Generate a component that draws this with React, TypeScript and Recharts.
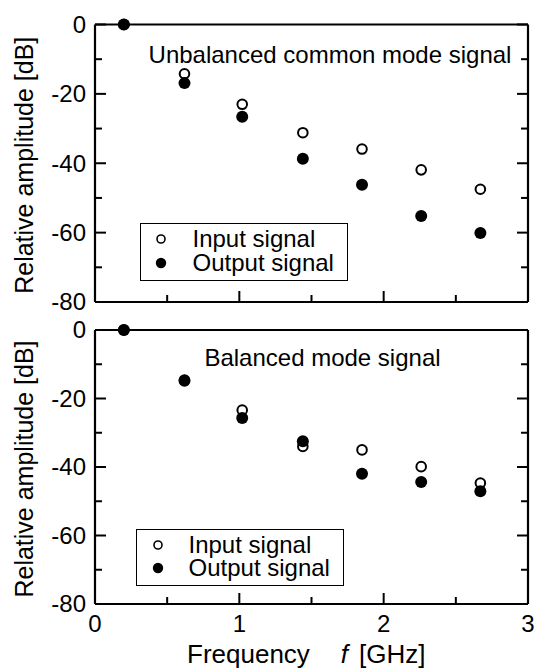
import React from 'react'
import { ScatterChart, Scatter, XAxis, YAxis, Legend, Label } from 'recharts'

const FONT = '"Liberation Sans", Arial, Helvetica, sans-serif'
const W = 534

// frequency of each harmonic [GHz]
const freqs = [0.2, 0.62, 1.02, 1.44, 1.85, 2.26, 2.67]
// unbalanced common mode signal [dB]
const unbalIn = [0, -14.2, -23, -31.2, -35.9, -41.9, -47.5]
const unbalOut = [0, -16.9, -26.6, -38.7, -46.2, -55.2, -60.1]
// balanced mode signal [dB]
const balIn = [0, -14.6, -23.4, -34, -35, -39.9, -44.7]
const balOut = [0, -14.8, -25.7, -32.5, -42, -44.4, -47.1]

const xTicks = [0, 0.5, 1, 1.5, 2, 2.5, 3]
const yTicks = [-80, -70, -60, -50, -40, -30, -20, -10, 0]
const seriesNames = ['Input signal', 'Output signal']

const toPoints = (ys: number[]) => freqs.map((f, i) => ({ f, db: ys[i] }))

const axisStyle = { stroke: '#000', strokeWidth: 2.2 }

const OpenDot = (p: any) => (
  <circle cx={p.cx} cy={p.cy} r={4.8} fill="#fff" stroke="#000" strokeWidth={2} />
)
const FilledDot = (p: any) => <circle cx={p.cx} cy={p.cy} r={6} fill="#000" />

type Side = 'top' | 'bottom' | 'left' | 'right'

// inward ticks, labels outside the frame
function frameTick(side: Side, withLabel: boolean) {
  return (props: any) => {
    const { x, y, payload } = props
    const v = payload.value
    const horiz = side === 'top' || side === 'bottom'
    const major = horiz ? Number.isInteger(v) : v % 20 === 0
    const len = major ? 11 : 7
    const d = { top: [0, len], bottom: [0, -len], left: [len, 0], right: [-len, 0] }[side]
    return (
      <g>
        <line x1={x} y1={y} x2={x + d[0]} y2={y + d[1]} stroke="#000" strokeWidth={2} />
        {withLabel && major && (side === 'left' ? (
          <text x={x - 9} y={y} dy="0.35em" textAnchor="end" fontSize={24} fontFamily={FONT} fill="#000">
            {v}
          </text>
        ) : (
          <text x={x} y={y + 20} dy="0.35em" textAnchor="middle" fontSize={24} fontFamily={FONT} fill="#000">
            {v}
          </text>
        ))}
      </g>
    )
  }
}

const YTitle = (props: any) => {
  const { y, height } = props.viewBox
  return (
    <text
      transform={`translate(24, ${y + height / 2 + 2}) rotate(-90)`}
      dy="0.35em"
      textAnchor="middle"
      fontSize={25}
      fontFamily={FONT}
      fill="#000"
    >
      Relative amplitude [dB]
    </text>
  )
}

const FreqTitle = (props: any) => {
  const { x, y } = props.viewBox
  return (
    <text x={x + 92} y={y + 59} fontSize={26} fontFamily={FONT} fill="#000">
      <tspan>Frequency</tspan>
      <tspan dx={31} fontStyle="italic">f</tspan>
      <tspan dx={11}>[GHz]</tspan>
    </text>
  )
}

function LegendBox({ width, height, rows, markX }: { width: number; height: number; rows: number[]; markX: number }) {
  return (
    <div
      style={{
        position: 'relative',
        width,
        height,
        boxSizing: 'border-box',
        border: '1.6px solid #000',
        background: '#fff',
        fontFamily: FONT,
        fontSize: 24,
        color: '#000',
      }}
    >
      {seriesNames.map((name, i) => (
        <div key={name} style={{ position: 'absolute', left: 0, top: rows[i] - 11, height: 22, lineHeight: '22px', whiteSpace: 'nowrap' }}>
          <svg width={14} height={14} style={{ position: 'absolute', left: markX - 7, top: 4 }}>
            {i === 0 ? (
              <circle cx={7} cy={7} r={4} fill="#fff" stroke="#000" strokeWidth={1.6} />
            ) : (
              <circle cx={7} cy={7} r={5.2} fill="#000" />
            )}
          </svg>
          <span style={{ position: 'absolute', left: 52 }}>{name}</span>
        </div>
      ))}
    </div>
  )
}

interface PanelProps {
  top: number
  height: number
  margin: { top: number; right: number; bottom: number; left: number }
  title: string
  titleX: number
  titleY: number
  legend: { left: number; top: number; width: number; height: number; rows: number[]; markX: number }
  input: number[]
  output: number[]
  showX: boolean
}

function Panel({ top, height, margin, title, titleX, titleY, legend, input, output, showX }: PanelProps) {
  return (
    <div style={{ position: 'absolute', left: 0, top, width: W, height }}>
      <ScatterChart width={W} height={height} margin={margin}>
        <XAxis
          xAxisId="b"
          type="number"
          dataKey="f"
          domain={[0, 3]}
          ticks={xTicks}
          interval={0}
          orientation="bottom"
          height={1}
          tickSize={0}
          tickMargin={0}
          axisLine={axisStyle}
          tickLine={false}
          tick={frameTick('bottom', showX)}
        >
          {showX && <Label content={FreqTitle} />}
        </XAxis>
        <XAxis
          xAxisId="t"
          type="number"
          domain={[0, 3]}
          allowDataOverflow
          ticks={xTicks}
          interval={0}
          orientation="top"
          height={1}
          tickSize={0}
          tickMargin={0}
          axisLine={axisStyle}
          tickLine={false}
          tick={frameTick('top', false)}
        />
        <YAxis
          yAxisId="l"
          type="number"
          dataKey="db"
          domain={[-80, 0]}
          ticks={yTicks}
          interval={0}
          width={95}
          tickSize={0}
          tickMargin={0}
          axisLine={axisStyle}
          tickLine={false}
          tick={frameTick('left', true)}
        >
          <Label content={YTitle} />
        </YAxis>
        <YAxis
          yAxisId="r"
          type="number"
          orientation="right"
          domain={[-80, 0]}
          allowDataOverflow
          ticks={yTicks}
          interval={0}
          width={1}
          tickSize={0}
          tickMargin={0}
          axisLine={axisStyle}
          tickLine={false}
          tick={frameTick('right', false)}
        />
        <Legend
          layout="vertical"
          align="center"
          verticalAlign="middle"
          wrapperStyle={{ left: legend.left, top: legend.top, width: legend.width, height: legend.height }}
          content={() => (
            <LegendBox width={legend.width} height={legend.height} rows={legend.rows} markX={legend.markX} />
          )}
        />
        <Scatter
          name={seriesNames[0]}
          xAxisId="b"
          yAxisId="l"
          data={toPoints(input)}
          shape={OpenDot}
          isAnimationActive={false}
        />
        <Scatter
          name={seriesNames[1]}
          xAxisId="b"
          yAxisId="l"
          data={toPoints(output)}
          shape={FilledDot}
          isAnimationActive={false}
        />
      </ScatterChart>
      <div
        style={{
          position: 'absolute',
          left: titleX,
          top: titleY - 13,
          transform: 'translateX(-50%)',
          fontFamily: FONT,
          fontSize: 24,
          lineHeight: '26px',
          whiteSpace: 'nowrap',
          color: '#000',
        }}
      >
        {title}
      </div>
    </div>
  )
}

export default function App() {
  return (
    <div style={{ position: 'absolute', left: 0, top: 0, width: W, height: 670, background: '#fff' }}>
      <Panel
        top={0}
        height={316}
        margin={{ top: 23.5, right: 5, bottom: 13, left: 0 }}
        title="Unbalanced common mode signal"
        titleX={330}
        titleY={55}
        legend={{ left: 139.5, top: 223, width: 208, height: 58, rows: [15, 39], markX: 20 }}
        input={unbalIn}
        output={unbalOut}
        showX={false}
      />
      <Panel
        top={316}
        height={354}
        margin={{ top: 13, right: 5, bottom: 65, left: 0 }}
        title="Balanced mode signal"
        titleX={322.5}
        titleY={42}
        legend={{ left: 135.5, top: 213, width: 208, height: 57, rows: [15, 38], markX: 21.5 }}
        input={balIn}
        output={balOut}
        showX={true}
      />
    </div>
  )
}
